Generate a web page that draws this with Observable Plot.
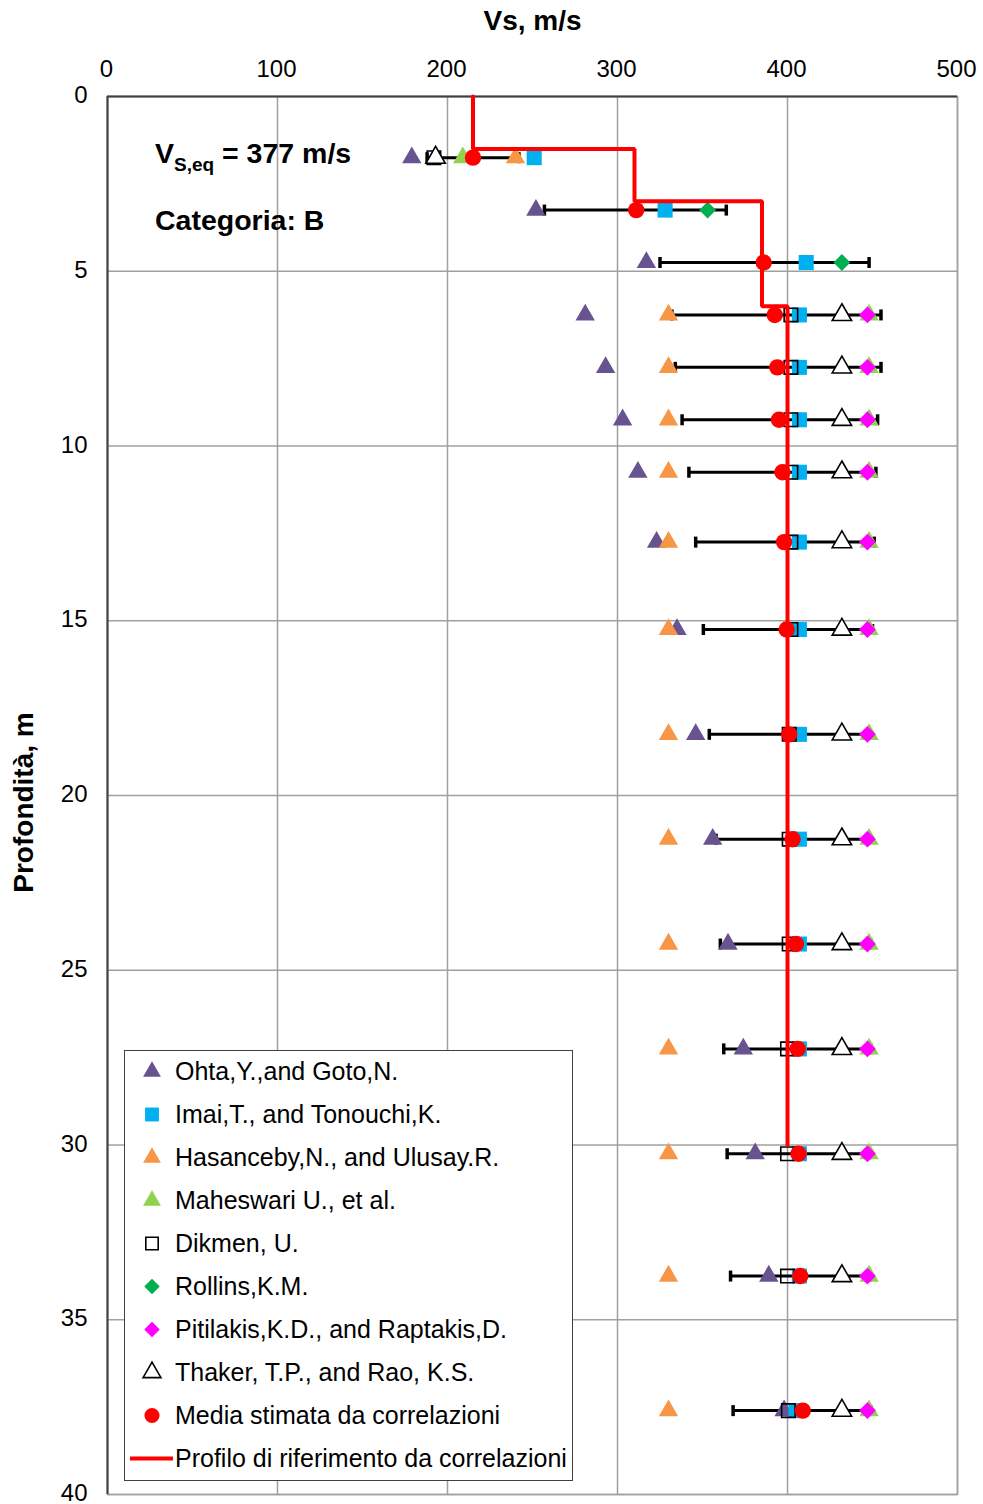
<!DOCTYPE html>
<html><head><meta charset="utf-8">
<script src="https://cdn.jsdelivr.net/npm/d3@7"></script>
<script src="https://cdn.jsdelivr.net/npm/@observablehq/plot@0.6"></script>
<style>
body{margin:0;background:#fff;font-family:Arial,"Liberation Sans",sans-serif;}
#wrap{position:relative;width:983px;height:1504px;overflow:hidden;}
#wrap svg{display:block;font-family:Arial,"Liberation Sans",sans-serif;}
.ann{position:absolute;font-weight:bold;font-size:28.5px;line-height:28px;color:#000;white-space:nowrap;}
.ann sub{font-size:19px;vertical-align:-8px;line-height:0;}
#legend{position:absolute;left:124px;top:1050px;width:449px;height:431px;box-sizing:border-box;border:1.5px solid #404040;background:#fff;}
#legend .row{position:absolute;left:0;height:43px;display:flex;align-items:center;font-size:25px;color:#000;white-space:nowrap;}
#legend svg{position:absolute;}
</style>
</head><body><div id="wrap"></div>
<script>
// ---- data ----
const depth     = [1.75, 3.25, 4.75, 6.25, 7.75, 9.25, 10.75, 12.75, 15.25, 18.25, 21.25, 24.25, 27.25, 30.25, 33.75, 37.6];
const ohta      = [179, 252, 317, 281, 293, 303, 312, 323, 335, 346, 356, 365, 374, 381, 389, 398];
const imai      = [251, 328, 411, 407, 407, 407, 407, 407, 407, 407, 407, 407, 407, 407, 407, 405];
const hasanceby = [240, null, null, 330, 330, 330, 330, 330, 330, 330, 330, 330, 330, 330, 330, 330];
const maheswari = [209, null, null, 448, 448, 448, 448, 448, 448, 448, 448, 448, 448, 448, 448, 448];
const dikmen    = [192, null, null, 402, 402, 402, 402, 402, 402, 401, 401, 401, 400, 400, 400, 400.5];
const rollins   = [null, 353, 432, null, null, null, null, null, null, null, null, null, null, null, null, null];
const pitilakis = [null, null, null, 447, 447, 447, 447, 447, 447, 447, 447, 447, 447, 447, 447, 447];
const thaker    = [193, null, null, 432, 432, 432, 432, 432, 432, 432, 432, 432, 432, 432, 432, 432];
const media     = [215, 311, 386, 392.5, 394, 395, 397, 398, 399.5, 401, 403, 405, 406, 406.5, 407.5, 409];
const errLo     = [188, 257, 325, 332, 334, 338, 342, 346, 350.5, 354, 358, 360.5, 362.5, 364.5, 366.5, 368];
const errHi     = [242, 364, 448, 455, 455, 453, 452, 451, 450, 448, 448, 449, 449, 448.5, 448.5, 449];
const profileDepth = [0, 1.5, 1.5, 3, 3, 6, 6, 30];
const profileVs    = [215, 215, 310, 310, 385, 385, 400, 400];
const xTicks = [0, 100, 200, 300, 400, 500];
const yTicks = [0, 5, 10, 15, 20, 25, 30, 35, 40];
const seriesNames = ["Ohta,Y.,and Goto,N.", "Imai,T., and Tonouchi,K.", "Hasanceby,N., and Ulusay.R.", "Maheswari U., et al.", "Dikmen, U.", "Rollins,K.M.", "Pitilakis,K.D., and Raptakis,D.", "Thaker, T.P., and Rao, K.S.", "Media stimata da correlazioni", "Profilo di riferimento da correlazioni"];

// ---- tables ----
const pts = vals => depth.map((d, i) => ({d, v: vals[i]})).filter(p => p.v != null);
const err = depth.map((d, i) => ({d, lo: errLo[i], hi: errHi[i]}));
const profile = profileDepth.map((d, i) => ({d, v: profileVs[i]}));

const cap = {draw(ctx, size) { const h = Math.sqrt(size / Math.PI); ctx.moveTo(0, -h); ctx.lineTo(0, h); }};

const st = {
  ohta:      {symbol: "triangle", r: 7.2, fill: "#67538f"},
  imai:      {symbol: "square",   r: 8.5, fill: "#00b0f0"},
  hasanceby: {symbol: "triangle", r: 7.2, fill: "#f79646"},
  maheswari: {symbol: "triangle", r: 7.2, fill: "#92d050"},
  dikmen:    {symbol: "square",   r: 7.6, fill: "none", stroke: "#000", strokeWidth: 1.6},
  rollins:   {symbol: "diamond2", r: 7.6, fill: "#00b050"},
  pitilakis: {symbol: "diamond2", r: 7.6, fill: "#ff00ff"},
  thaker:    {symbol: "triangle", r: 7.2, fill: "#fff", stroke: "#000", strokeWidth: 1.6},
  media:     {symbol: "circle",   r: 8.2, fill: "#ff0000"}
};
const dot = (vals, s) => Plot.dot(pts(vals), {x: "v", y: "d", ...s});

const chart = Plot.plot({
  width: 983, height: 1504,
  marginLeft: 107, marginRight: 26, marginTop: 96, marginBottom: 10,
  style: {fontFamily: "Arial, 'Liberation Sans', sans-serif", fontSize: "24px", color: "#000", background: "#fff"},
  x: {domain: [0, 500]},
  y: {domain: [0, 40], reverse: true},
  marks: [
    Plot.gridX(xTicks, {stroke: "#a0a0a0", strokeOpacity: 1, strokeWidth: 1.5}),
    Plot.gridY(yTicks, {stroke: "#a0a0a0", strokeOpacity: 1, strokeWidth: 1.5}),
    Plot.frame({stroke: "#a0a0a0", strokeWidth: 1.5}),
    Plot.ruleX([0], {stroke: "#404040", strokeWidth: 2}),
    Plot.ruleY([0], {stroke: "#404040", strokeWidth: 2}),
    Plot.axisX(xTicks, {anchor: "top", tickSize: 0, tickPadding: 20, fontSize: 24, label: "Vs, m/s", labelAnchor: "center", labelOffset: 86, labelArrow: "none", dx: -1}),
    Plot.axisY(yTicks, {anchor: "left", tickSize: 0, tickPadding: 20, fontSize: 24, label: "Profondità, m", labelAnchor: "center", labelOffset: 94, labelArrow: "none", dy: -1}),
    Plot.link(err, {x1: "lo", x2: "hi", y1: "d", y2: "d", stroke: "#000", strokeWidth: 3}),
    Plot.dot(err, {x: "lo", y: "d", symbol: cap, r: 5.5, stroke: "#000", strokeWidth: 3.5}),
    Plot.dot(err, {x: "hi", y: "d", symbol: cap, r: 5.5, stroke: "#000", strokeWidth: 3.5}),
    dot(ohta, st.ohta),
    dot(imai, st.imai),
    dot(hasanceby, st.hasanceby),
    dot(maheswari, st.maheswari),
    dot(dikmen, st.dikmen),
    dot(rollins, st.rollins),
    dot(pitilakis, st.pitilakis),
    dot(thaker, st.thaker),
    Plot.line(profile, {x: "v", y: "d", stroke: "#ff0000", strokeWidth: 4, strokeLinejoin: "miter"}),
    dot(media, st.media)
  ]
});
const wrap = document.getElementById("wrap");
wrap.appendChild(chart);
d3.select(chart).selectAll('[aria-label="x-axis label"] text, [aria-label="y-axis label"] text')
  .style("font-weight", "bold").style("font-size", "28px");
d3.select(chart).selectAll('[aria-label="y-axis label"] text').attr("dx", "-7");

// annotations
const a1 = document.createElement("div");
a1.className = "ann"; a1.style.left = "155px"; a1.style.top = "139px";
a1.innerHTML = "V<sub>S,eq</sub> = 377 m/s";
wrap.appendChild(a1);
const a2 = document.createElement("div");
a2.className = "ann"; a2.style.left = "155px"; a2.style.top = "206px";
a2.textContent = "Categoria: B";
wrap.appendChild(a2);

// legend
const legend = document.createElement("div");
legend.id = "legend";
wrap.appendChild(legend);
const order = ["ohta", "imai", "hasanceby", "maheswari", "dikmen", "rollins", "pitilakis", "thaker", "media"];
const symMap = {triangle: d3.symbolTriangle, square: d3.symbolSquare, diamond2: d3.symbolDiamond2, circle: d3.symbolCircle};
const lsvg = d3.select(legend).append("svg").attr("width", 446).attr("height", 428).style("left", "0px").style("top", "0px");
seriesNames.forEach((name, i) => {
  const cy = 20.5 + i * 43;
  const row = document.createElement("div");
  row.className = "row"; row.style.top = (cy - 21.5) + "px"; row.style.left = "50px";
  row.textContent = name;
  legend.appendChild(row);
  if (i < order.length) {
    const s = st[order[i]];
    const rr = s.r * 0.92;
    lsvg.append("path")
      .attr("transform", `translate(27,${cy})`)
      .attr("d", d3.symbol(symMap[s.symbol], rr * rr * Math.PI)())
      .attr("fill", s.fill).attr("stroke", s.stroke || "none").attr("stroke-width", s.strokeWidth || 0);
  } else {
    lsvg.append("line").attr("x1", 5).attr("x2", 48).attr("y1", cy).attr("y2", cy)
      .attr("stroke", "#ff0000").attr("stroke-width", 4);
  }
});
</script>
</body></html>
